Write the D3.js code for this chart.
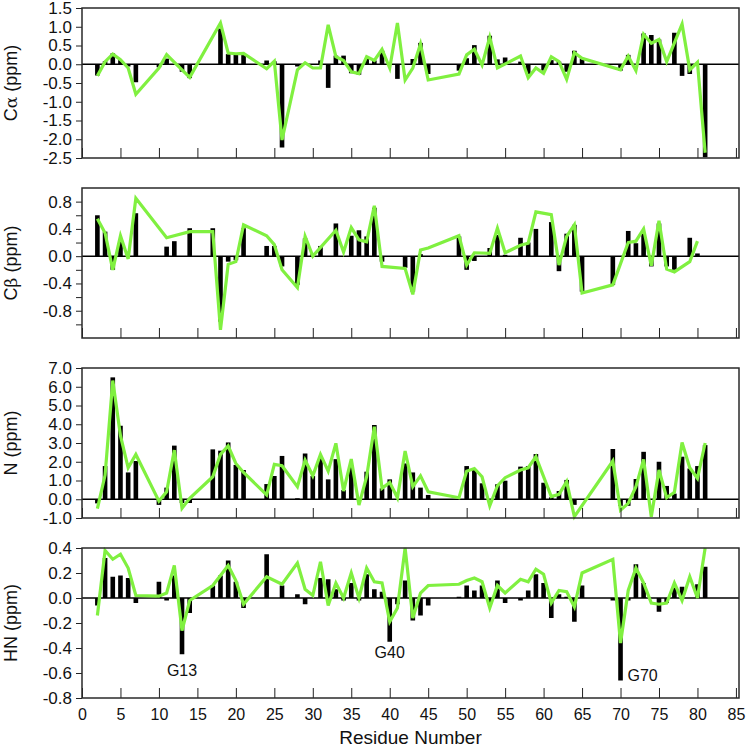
<!DOCTYPE html>
<html>
<head>
<meta charset="utf-8">
<script src="https://cdn.jsdelivr.net/npm/d3@7"></script>
<style>
  body { margin: 0; background: #fff; }
  text { font-family: "Liberation Sans", Arial, Helvetica, sans-serif; }
</style>
</head>
<body>
<svg width="746" height="752"></svg>
<script>
// residue numbers and values
var caBarRes = [2, 3, 4, 5, 6, 7, 10, 11, 13, 14, 18, 19, 20, 21, 24, 25, 26, 28, 31, 32, 33, 34, 35, 36, 37, 38, 39, 41, 43, 44, 45, 49, 50, 51, 53, 54, 55, 57, 58, 60, 61, 62, 63, 64, 65, 70, 71, 73, 74, 75, 77, 78, 79, 81];
var caBarVal = [-0.3, 0.08, 0.29, 0.11, -0.06, -0.48, -0.08, 0.15, -0.2, -0.37, 0.95, 0.27, 0.25, 0.25, 0.1, 0.08, -2.22, -0.06, 0.1, -0.63, 0.23, 0.23, -0.24, -0.28, 0.15, 0.1, 0.36, -0.39, 0.14, 0.57, -0.26, -0.17, 0.16, 0.51, 0.76, 0.13, 0.18, 0.07, -0.26, -0.17, 0.11, 0.07, -0.2, 0.36, 0.15, -0.17, 0.25, 0.82, 0.78, 0.66, 0.84, -0.31, -0.26, -2.48];
var caLineRes = [2, 3, 4, 5, 6, 7, 10, 11, 13, 14, 18, 19, 20, 21, 24, 25, 26, 28, 29, 30, 31, 32, 33, 34, 35, 36, 37, 38, 39, 40, 41, 42, 43, 44, 45, 49, 50, 51, 52, 53, 54, 57, 58, 59, 60, 61, 62, 63, 64, 65, 70, 71, 72, 73, 74, 75, 76, 78, 79, 80, 81];
var caLineVal = [-0.31, 0.07, 0.27, 0.12, -0.1, -0.8, -0.1, 0.26, -0.15, -0.35, 1.1, 0.3, 0.28, 0.29, -0.12, 0.08, -2.02, -0.15, 0.04, -0.1, -0.1, 1.05, 0.2, 0.1, -0.2, -0.25, 0.2, 0.1, 0.4, -0.1, 1.1, -0.42, -0.1, 0.54, -0.42, -0.26, 0.25, 0.4, -0.02, 0.72, -0.1, 0.22, -0.36, -0.1, -0.24, 0.2, 0.07, -0.4, 0.31, 0.16, -0.15, 0.22, -0.17, 0.8, 0.56, 0.66, 0.07, 1.07, -0.15, 0.05, -2.36];

var cbBarRes = [2, 3, 4, 5, 7, 11, 12, 14, 17, 18, 19, 20, 21, 24, 25, 26, 28, 29, 30, 31, 33, 35, 36, 37, 38, 39, 42, 43, 44, 49, 50, 51, 53, 54, 55, 57, 58, 59, 61, 62, 63, 64, 65, 69, 71, 72, 73, 74, 75, 76, 77, 79, 80];
var cbBarVal = [0.6, 0.36, -0.2, 0.24, 0.63, 0.14, 0.22, 0.41, 0.41, -0.96, -0.08, -0.06, 0.41, 0.15, 0.15, -0.15, -0.42, 0.26, 0.03, 0.15, 0.48, 0.3, 0.38, 0.29, 0.71, -0.08, -0.17, -0.52, 0.03, 0.29, -0.2, -0.07, 0.12, 0.31, 0.02, 0.27, 0.2, 0.4, 0.5, -0.22, 0.33, 0.46, -0.52, -0.42, 0.37, 0.19, 0.33, -0.15, 0.48, -0.15, -0.2, 0.27, 0.04];
var cbLineRes = [2, 3, 4, 5, 6, 7, 11, 14, 17, 18, 19, 20, 21, 24, 25, 26, 28, 29, 30, 33, 34, 35, 36, 37, 38, 39, 42, 43, 44, 45, 49, 50, 51, 53, 54, 55, 57, 58, 59, 61, 62, 63, 64, 65, 69, 71, 72, 73, 74, 75, 76, 77, 79, 80];
var cbLineVal = [0.55, 0.34, -0.2, 0.3, -0.04, 0.85, 0.27, 0.36, 0.36, -1.08, -0.12, -0.08, 0.46, 0.3, 0.17, -0.2, -0.46, 0.29, 0.0, 0.38, 0.06, 0.42, 0.24, 0.21, 0.74, -0.15, -0.18, -0.56, 0.09, 0.12, 0.3, -0.13, 0.05, 0.04, 0.41, 0.05, 0.16, 0.19, 0.65, 0.61, -0.13, 0.29, 0.46, -0.54, -0.42, 0.2, 0.22, 0.4, -0.14, 0.52, -0.19, -0.23, -0.08, 0.22];

var nBarRes = [2, 3, 4, 5, 6, 7, 10, 11, 12, 13, 14, 17, 18, 19, 20, 21, 24, 25, 26, 28, 29, 30, 31, 32, 33, 34, 35, 37, 38, 39, 40, 42, 43, 44, 45, 50, 51, 52, 54, 55, 57, 58, 59, 60, 61, 62, 63, 64, 69, 70, 71, 72, 73, 75, 76, 77, 78, 79, 80, 81];
var nBarVal = [-0.22, 1.77, 6.5, 3.92, 1.43, 2.04, -0.3, 0.62, 2.86, -0.2, -0.2, 2.66, 2.59, 3.03, 1.83, 1.56, 0.81, 1.24, 2.31, 0.05, 2.44, 1.24, 2.22, 1.06, 2.14, 0.49, 1.79, 1.47, 3.96, 0.58, 1.06, 1.91, 1.43, 0.62, 0.23, 1.77, 1.56, 0.85, 0.8, 0.99, 1.74, 1.77, 2.41, 0.88, 0.1, 0.44, 1.03, -0.3, 2.68, -0.35, -0.35, 1.08, 2.53, 2.0, 0.71, 0.3, 2.27, 1.64, 1.77, 2.89];
var nLineRes = [2, 3, 4, 5, 6, 7, 10, 11, 12, 13, 14, 17, 18, 19, 20, 21, 24, 25, 26, 28, 29, 30, 31, 32, 33, 34, 35, 36, 37, 38, 39, 40, 41, 42, 43, 44, 45, 49, 50, 51, 52, 53, 54, 55, 57, 58, 59, 61, 62, 63, 64, 69, 70, 71, 72, 73, 74, 75, 76, 77, 78, 79, 80, 81];
var nLineVal = [-0.5, 1.29, 6.33, 3.39, 1.68, 2.39, -0.1, 0.4, 2.62, -0.48, 0.05, 1.2, 2.39, 2.84, 1.91, 1.43, 0.23, 1.86, 1.79, 0.67, 2.09, 1.25, 2.39, 1.5, 2.98, 0.44, 2.14, -0.31, 1.2, 3.87, 0.58, 0.9, 0.08, 2.57, 0.67, 1.25, 0.4, 0.08, 1.5, 1.64, 1.2, -0.35, 0.72, 1.15, 1.56, 1.68, 2.27, 0.14, 0.26, 0.94, -0.93, 2.04, -0.58, -0.22, 0.67, 2.12, -0.93, 1.56, 0.08, 0.37, 3.03, 1.68, 1.11, 3.0];

var hnBarRes = [2, 3, 4, 5, 6, 7, 10, 11, 12, 13, 14, 17, 18, 19, 20, 21, 24, 26, 28, 29, 31, 32, 33, 34, 35, 36, 37, 38, 39, 40, 41, 42, 43, 44, 45, 49, 50, 51, 52, 53, 54, 55, 57, 58, 59, 60, 61, 62, 63, 64, 65, 69, 70, 71, 72, 73, 75, 76, 77, 78, 80, 81];
var hnBarVal = [-0.06, 0.32, 0.17, 0.18, 0.16, -0.04, 0.13, -0.02, 0.18, -0.45, -0.12, 0.1, 0.18, 0.3, 0.13, -0.08, 0.35, 0.1, 0.03, -0.05, 0.16, 0.15, 0.07, -0.02, 0.12, -0.02, 0.19, 0.07, 0.05, -0.35, -0.05, 0.14, -0.18, -0.14, -0.06, 0.01, 0.1, 0.06, 0.1, -0.05, 0.14, -0.04, -0.02, 0.06, 0.19, 0.12, -0.16, 0.03, 0.01, -0.19, 0.1, -0.02, -0.66, -0.02, 0.27, 0.12, -0.11, -0.04, 0.08, 0.09, 0.11, 0.25];
var hnLineRes = [2, 3, 4, 5, 6, 7, 10, 11, 12, 13, 14, 17, 18, 19, 20, 21, 24, 26, 28, 29, 30, 31, 32, 33, 34, 35, 36, 37, 38, 39, 40, 41, 42, 43, 44, 45, 49, 50, 51, 52, 53, 54, 55, 57, 58, 59, 60, 61, 62, 63, 64, 65, 69, 70, 71, 72, 73, 74, 75, 76, 77, 78, 79, 80, 81];
var hnLineVal = [-0.14, 0.38, 0.31, 0.35, 0.24, 0.02, 0.015, 0.04, 0.26, -0.26, -0.02, 0.1, 0.18, 0.26, 0.14, -0.05, 0.17, 0.11, 0.28, 0.07, 0.02, 0.29, -0.06, 0.12, 0.0, 0.2, 0.0, 0.24, 0.13, 0.12, -0.19, -0.08, 0.4, -0.16, 0.04, 0.1, 0.11, 0.14, 0.16, 0.13, -0.08, 0.1, 0.04, 0.15, 0.13, 0.23, 0.19, -0.04, 0.06, 0.05, -0.07, 0.2, 0.31, -0.36, 0.06, 0.24, 0.12, -0.04, -0.05, -0.04, 0.12, -0.02, 0.17, 0.0, 0.4];

// glycine labels in the HN panel
var glyLabels = ["G13", "G40", "G70"];
var glyRes = [13, 40, 70];
var glyVal = [-0.62, -0.48, -0.66];

var xTicks = d3.range(0, 90, 5);

var svg = d3.select("svg");
var left = 82, right = 739, panelH = 150;
var green = "#80f040";

var x = d3.scaleLinear().domain([0, 85.4]).range([left, right]);

function pairs(res, val) {
  return res.map(function (r, i) { return { r: r, v: val[i] }; });
}

var panels = [
  { label: ["C", "α"], top: 8, domain: [-2.5, 1.5], ticks: d3.range(-2.5, 1.51, 0.5), every: 1,
    bars: pairs(caBarRes, caBarVal), line: pairs(caLineRes, caLineVal) },
  { label: ["C", "β"], top: 188, domain: [-1.2, 1.0], ticks: d3.range(-1.0, 0.81, 0.2), every: 2,
    bars: pairs(cbBarRes, cbBarVal), line: pairs(cbLineRes, cbLineVal) },
  { label: ["N", ""], top: 368, domain: [-1, 7], ticks: d3.range(-1, 7.01, 1), every: 1,
    bars: pairs(nBarRes, nBarVal), line: pairs(nLineRes, nLineVal) },
  { label: ["HN", ""], top: 548, domain: [-0.8, 0.4], ticks: d3.range(-0.8, 0.41, 0.2), every: 1,
    bars: pairs(hnBarRes, hnBarVal), line: pairs(hnLineRes, hnLineVal) }
];

panels.forEach(function (p, k) {
  var y = d3.scaleLinear().domain(p.domain).range([p.top + panelH, p.top]);
  var g = svg.append("g");
  var last = k == panels.length - 1;

  // bars
  g.selectAll(".bar")
    .data(p.bars)
    .enter()
    .append("rect")
    .attr("x", function (d) { return x(d.r - 0.3); })
    .attr("width", x(0.6) - x(0))
    .attr("y", function (d) { return y(Math.max(0, d.v)); })
    .attr("height", function (d) { return Math.abs(y(d.v) - y(0)); })
    .attr("fill", "#000");

  // zero line
  g.append("line")
    .attr("x1", left).attr("x2", right)
    .attr("y1", y(0)).attr("y2", y(0))
    .attr("stroke", "#000")
    .attr("stroke-width", 1.5);

  // green line
  g.append("path")
    .datum(p.line)
    .attr("d", d3.line()
      .x(function (d) { return x(d.r); })
      .y(function (d) { return y(d.v); }))
    .attr("fill", "none")
    .attr("stroke", green)
    .attr("stroke-width", 3.2)
    .attr("stroke-linejoin", "miter");

  // y axis
  var ya = g.append("g")
    .attr("transform", "translate(" + left + ",0)")
    .call(d3.axisLeft(y)
      .tickValues(p.ticks)
      .tickSize(6)
      .tickPadding(4)
      .tickFormat(function (d, i) {
        var n = Math.round(d * 10);
        if (p.every == 2 && Math.abs(n) % 4 != 0) return "";
        return (n / 10).toFixed(1);
      }));
  ya.select(".domain").remove();
  ya.selectAll("line").attr("stroke", "#222");
  ya.selectAll("text").attr("font-size", "17px").attr("fill", "#111")
    .attr("font-family", "Liberation Sans, Arial, sans-serif");

  // x ticks pointing up
  var xa = g.append("g")
    .attr("transform", "translate(0," + (p.top + panelH) + ")")
    .call(d3.axisBottom(x)
      .tickValues(xTicks)
      .tickSizeInner(-10)
      .tickSizeOuter(0)
      .tickPadding(11)
      .tickFormat(last ? d3.format("d") : ""));
  xa.select(".domain").remove();
  xa.selectAll("line").attr("stroke", "#222");
  xa.selectAll("text").attr("font-size", "16px").attr("fill", "#111")
    .attr("font-family", "Liberation Sans, Arial, sans-serif");

  // border
  g.append("rect")
    .attr("x", left).attr("y", p.top)
    .attr("width", right - left).attr("height", panelH)
    .attr("fill", "none")
    .attr("stroke", "#2a2a2a")
    .attr("stroke-width", 1.5);

  // axis title
  var t = svg.append("text")
    .attr("transform", "translate(17," + (p.top + panelH / 2) + ") rotate(-90)")
    .attr("text-anchor", "middle")
    .attr("font-size", "18px")
    .attr("fill", "#111");
  t.append("tspan").text(p.label[0]);
  if (p.label[1]) t.append("tspan").attr("font-family", "DejaVu Serif, serif").attr("font-size", "17px").text(p.label[1]);
  t.append("tspan").text(" (ppm)");

  if (last) {
    g.selectAll(".gly")
      .data(glyLabels)
      .enter()
      .append("text")
      .attr("x", function (d, i) { return i == 2 ? x(glyRes[i]) + 7 : x(glyRes[i]); })
      .attr("y", function (d, i) { return y(glyVal[i]); })
      .attr("text-anchor", function (d, i) { return i == 2 ? "start" : "middle"; })
      .attr("font-family", "Open Sans, Noto Sans, sans-serif")
      .attr("font-size", "16px")
      .attr("fill", "#111")
      .text(function (d) { return d; });
  }
});

svg.append("text")
  .attr("x", (left + right) / 2)
  .attr("y", 744)
  .attr("text-anchor", "middle")
  .attr("font-size", "19px")
  .attr("fill", "#111")
  .text("Residue Number");
</script>
</body>
</html>
